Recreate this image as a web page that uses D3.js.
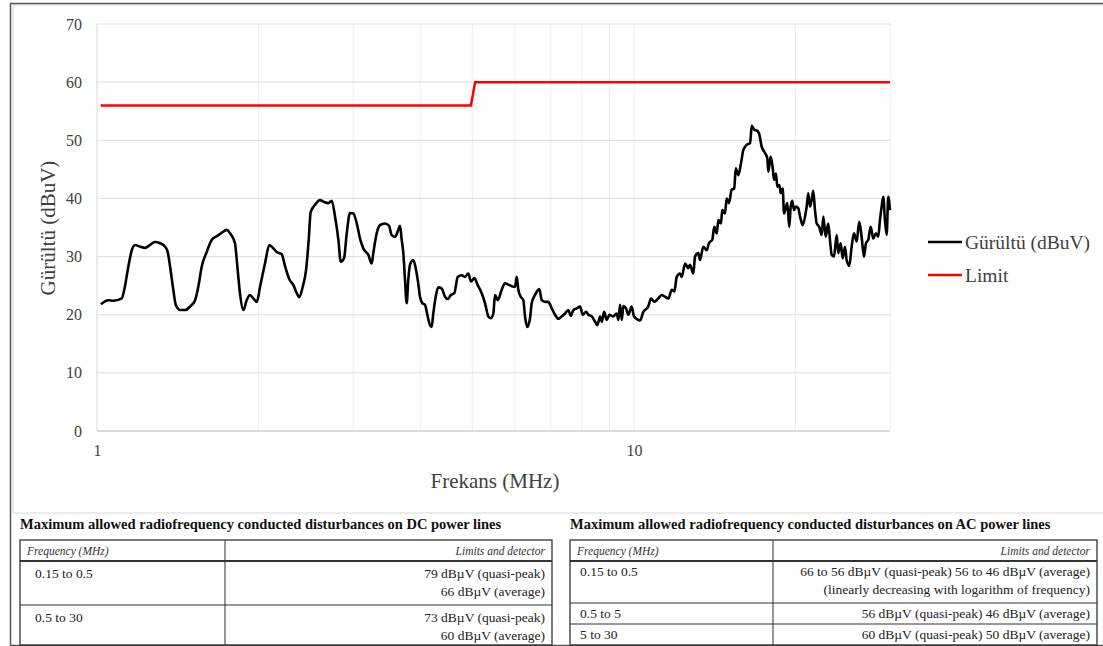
<!DOCTYPE html>
<html lang="tr">
<head>
<meta charset="UTF-8">
<title>Gürültü ve Limit</title>
<script src="https://d3js.org/d3.v7.min.js"></script>
<style>
  body { margin: 0; background: #fff; }
  svg text { font-family: "Liberation Serif", "Times New Roman", serif; }
</style>
</head>
<body>
<svg id="chart" width="1103" height="646"></svg>
<script>
// ---- data ----
const yTicks = [0, 10, 20, 30, 40, 50, 60, 70];
const xTickLabels = [1, 10];
const xGrid = [1, 2, 3, 4, 5, 6, 7, 8, 9, 10, 20, 30];

// [MHz, dBuV]
const noise = [
  [1.017,21.8],[1.050,22.5],[1.072,22.4],[1.112,22.8],[1.124,24.3],[1.144,28.3],[1.161,31.1],[1.177,32.0],
  [1.203,31.7],[1.229,31.5],[1.255,32.0],[1.282,32.5],[1.310,32.3],[1.339,31.7],[1.354,30.8],[1.368,28.3],
  [1.387,24.3],[1.402,21.7],[1.428,20.8],[1.459,20.8],[1.490,21.4],[1.523,22.5],[1.544,24.8],[1.567,28.3],
  [1.601,30.8],[1.636,32.9],[1.671,33.5],[1.707,34.1],[1.744,34.6],[1.769,34.0],[1.807,32.3],[1.821,29.4],
  [1.833,26.5],[1.846,23.7],[1.873,20.8],[1.900,22.5],[1.927,23.4],[1.955,22.8],[1.984,22.2],[2.012,24.8],
  [2.055,28.8],[2.094,32.0],[2.130,31.4],[2.161,30.8],[2.208,30.4],[2.240,28.3],[2.281,26.1],[2.321,25.1],
  [2.355,23.7],[2.381,23.0],[2.416,24.8],[2.451,27.7],[2.479,32.9],[2.500,37.7],[2.547,38.9],[2.602,39.7],
  [2.647,39.4],[2.696,39.2],[2.736,39.6],[2.775,36.9],[2.815,32.9],[2.844,29.1],[2.884,29.7],[2.918,34.0],
  [2.959,37.5],[3.002,37.4],[3.046,35.7],[3.089,33.1],[3.133,31.4],[3.201,30.3],[3.248,28.8],[3.270,30.6],
  [3.318,34.0],[3.365,35.4],[3.438,35.7],[3.498,35.3],[3.538,33.7],[3.589,33.4],[3.640,34.6],[3.667,35.3],
  [3.693,32.9],[3.719,30.6],[3.746,26.0],[3.773,22.0],[3.799,26.0],[3.827,28.6],[3.882,29.4],[3.922,28.0],
  [3.956,26.0],[3.995,23.1],[4.034,22.0],[4.081,21.7],[4.129,19.7],[4.170,18.2],[4.200,17.9],[4.229,20.2],
  [4.273,23.1],[4.321,24.7],[4.384,24.5],[4.447,23.1],[4.498,22.7],[4.562,23.4],[4.628,23.7],[4.696,26.5],
  [4.777,26.8],[4.845,26.5],[4.914,27.1],[4.971,25.7],[5.042,26.3],[5.116,25.1],[5.205,23.7],[5.279,22.0],
  [5.355,19.7],[5.417,19.4],[5.471,20.2],[5.511,23.4],[5.575,22.5],[5.671,24.3],[5.752,25.4],[5.794,25.3],
  [5.920,24.9],[6.004,24.8],[6.048,26.5],[6.090,24.3],[6.153,23.1],[6.222,22.5],[6.267,19.7],[6.329,17.9],
  [6.403,19.4],[6.450,22.0],[6.542,23.4],[6.664,24.4],[6.733,22.5],[6.829,22.2],[6.926,22.2],[7.028,21.1],
  [7.128,20.0],[7.230,19.3],[7.336,19.7],[7.440,20.2],[7.547,20.8],[7.625,19.8],[7.710,20.8],[7.824,21.1],
  [7.935,21.4],[8.028,20.0],[8.142,20.5],[8.223,20.0],[8.344,19.7],[8.463,18.8],[8.547,18.2],[8.646,19.7],
  [8.710,18.8],[8.796,20.5],[8.898,19.1],[8.998,20.0],[9.130,19.7],[9.288,20.2],[9.352,19.1],[9.421,21.7],
  [9.490,19.1],[9.555,21.5],[9.666,21.1],[9.762,20.0],[9.902,21.4],[10.00,19.7],[10.19,19.1],[10.26,19.0],
  [10.41,20.5],[10.63,21.4],[10.76,22.8],[10.91,22.2],[11.10,22.8],[11.26,23.4],[11.42,23.1],[11.59,22.8],
  [11.76,24.3],[11.89,24.0],[12.01,26.5],[12.18,27.1],[12.27,26.5],[12.45,28.8],[12.62,28.0],[12.71,28.6],
  [12.90,27.1],[12.99,30.0],[13.18,30.6],[13.27,29.4],[13.46,31.7],[13.66,31.1],[13.79,32.3],[13.99,32.9],
  [14.11,35.1],[14.26,34.0],[14.36,36.3],[14.52,35.7],[14.60,38.0],[14.77,37.4],[14.88,40.0],[15.03,39.2],
  [15.20,41.5],[15.37,41.7],[15.47,45.2],[15.64,44.0],[15.82,46.0],[15.98,48.3],[16.21,49.2],[16.45,49.5],
  [16.57,52.5],[16.75,51.8],[16.92,51.7],[17.09,51.2],[17.29,48.9],[17.54,47.8],[17.71,46.9],[17.79,44.6],
  [17.97,47.2],[18.13,45.2],[18.23,43.2],[18.38,44.3],[18.49,42.0],[18.65,42.3],[18.76,40.9],[18.92,41.7],
  [19.03,37.4],[19.19,38.6],[19.30,39.2],[19.46,35.1],[19.58,38.6],[19.71,39.6],[19.86,38.0],[20.03,38.6],
  [20.23,38.3],[20.38,36.9],[20.61,35.4],[20.82,36.9],[20.97,38.6],[21.11,40.9],[21.27,38.6],[21.42,39.7],
  [21.57,41.3],[21.73,38.0],[21.89,35.7],[22.13,35.1],[22.36,33.7],[22.52,36.9],[22.75,33.4],[23.00,35.7],
  [23.17,32.9],[23.34,30.3],[23.57,30.0],[23.85,33.7],[24.01,30.6],[24.26,32.3],[24.47,29.7],[24.71,31.7],
  [24.89,29.4],[25.17,28.4],[25.43,31.7],[25.68,34.0],[25.98,32.6],[26.27,36.0],[26.54,33.4],[26.81,30.0],
  [27.04,32.3],[27.31,32.9],[27.59,35.1],[27.90,33.1],[28.22,34.0],[28.50,33.4],[28.71,36.3],[28.92,38.6],
  [29.12,40.3],[29.33,36.3],[29.55,33.7],[29.75,40.3],[29.97,38.0]
];

const limit = [[1.016,56],[4.97,56],[5.06,60],[29.97,60]];

const seriesNames = ["Gürültü (dBuV)", "Limit"];
const seriesColors = ["#000000", "#ff0000"];

const dcTitle = "Maximum allowed radiofrequency conducted disturbances on DC power lines";
const acTitle = "Maximum allowed radiofrequency conducted disturbances on AC power lines";
const tableHeader = ["Frequency (MHz)", "Limits and detector"];
const dcRows = [
  { freq: "0.15 to 0.5", limits: ["79 dBµV (quasi-peak)", "66 dBµV (average)"] },
  { freq: "0.5 to 30", limits: ["73 dBµV (quasi-peak)", "60 dBµV (average)"] }
];
const acRows = [
  { freq: "0.15 to 0.5", limits: ["66 to 56 dBµV (quasi-peak) 56 to 46 dBµV (average)", "(linearly decreasing with logarithm of frequency)"] },
  { freq: "0.5 to 5", limits: ["56 dBµV (quasi-peak) 46 dBµV (average)"] },
  { freq: "5 to 30", limits: ["60 dBµV (quasi-peak) 50 dBµV (average)"] }
];

// ---- layout ----
const svg = d3.select("#chart");
const plot = { left: 97, right: 890.2, top: 24, bottom: 431 };

// frames
svg.append("rect").attr("x", 13).attr("y", 5).attr("width", 1095).attr("height", 508)
  .attr("fill", "none").attr("stroke", "#d9d9d9").attr("stroke-width", 1);
svg.append("path").attr("d", "M1103,3.5H10.5V645.5H1103")
  .attr("fill", "none").attr("stroke", "#555").attr("stroke-width", 1.5);

const x = d3.scaleLog().domain([1, 30]).range([plot.left, plot.right]);
const y = d3.scaleLinear().domain([0, 70]).range([plot.bottom, plot.top]);

// gridlines
svg.append("g").selectAll("line").data(xGrid).join("line")
  .attr("x1", d => x(d)).attr("x2", d => x(d))
  .attr("y1", plot.top).attr("y2", plot.bottom)
  .attr("stroke", d => (d === 1 ? "#d9d9d9" : "#ededed")).attr("stroke-width", 1);
svg.append("g").selectAll("line").data(yTicks).join("line")
  .attr("x1", plot.left).attr("x2", plot.right)
  .attr("y1", d => y(d)).attr("y2", d => y(d))
  .attr("stroke", d => (d === 0 ? "#cfcfcf" : "#dedede")).attr("stroke-width", d => (d === 0 ? 1.5 : 1));

// axes (labels only, Excel style)
const yAxis = svg.append("g").attr("transform", `translate(${plot.left},0)`)
  .call(d3.axisLeft(y).tickValues(yTicks).tickSize(0).tickPadding(15));
const xAxis = svg.append("g").attr("transform", `translate(0,${plot.bottom})`)
  .call(d3.axisBottom(x).tickValues(xTickLabels).tickFormat(d3.format("d")).tickSize(0).tickPadding(14));
[yAxis, xAxis].forEach(a => {
  a.select(".domain").remove();
  a.selectAll("text").attr("font-size", 16).attr("fill", "#404040")
    .attr("font-family", "'Liberation Serif', 'Times New Roman', serif");
});

// axis titles
svg.append("text").attr("transform", "translate(55,228) rotate(-90)")
  .attr("text-anchor", "middle").attr("font-size", 21).attr("fill", "#404040")
  .text("Gürültü (dBuV)");
svg.append("text").attr("x", 495).attr("y", 488)
  .attr("text-anchor", "middle").attr("font-size", 21).attr("fill", "#404040")
  .text("Frekans (MHz)");

// series
const line = d3.line().x(d => x(d[0])).y(d => y(d[1]));
svg.append("path").datum(limit)
  .attr("d", line.curve(d3.curveLinear))
  .attr("fill", "none").attr("stroke", seriesColors[1]).attr("stroke-width", 2.5);
svg.append("path").datum(noise)
  .attr("d", line.curve(d3.curveMonotoneX))
  .attr("fill", "none").attr("stroke", seriesColors[0]).attr("stroke-width", 2.6)
  .attr("stroke-linejoin", "round");

// legend
const legend = svg.append("g").selectAll("g").data(seriesNames).join("g")
  .attr("transform", (d, i) => `translate(928,${242 + i * 33})`);
legend.append("line").attr("x1", 0).attr("x2", 34)
  .attr("stroke", (d, i) => seriesColors[i]).attr("stroke-width", 2.5);
legend.append("text").attr("x", 37).attr("y", 6.5)
  .attr("font-size", 19.5).attr("fill", "#404040").text(d => d);

// ---- tables ----
function drawTable(cfg) {
  const g = svg.append("g");
  g.append("text").attr("x", cfg.x0).attr("y", 529)
    .attr("font-size", 14.5).attr("font-weight", "bold").attr("fill", "#111")
    .text(cfg.title);
  const b = cfg.bounds;
  // inner row lines
  g.selectAll("line.row").data(b.slice(1, -1)).join("line")
    .attr("x1", cfg.x0).attr("x2", cfg.x1).attr("y1", d => d).attr("y2", d => d)
    .attr("stroke", "#333").attr("stroke-width", (d, i) => (i === 0 ? 2 : 1));
  g.append("line").attr("x1", cfg.xd).attr("x2", cfg.xd).attr("y1", b[0]).attr("y2", b[b.length - 1])
    .attr("stroke", "#333").attr("stroke-width", 1);
  g.append("rect").attr("x", cfg.x0).attr("y", b[0])
    .attr("width", cfg.x1 - cfg.x0).attr("height", b[b.length - 1] - b[0])
    .attr("fill", "none").attr("stroke", "#333").attr("stroke-width", 1.3);
  // header
  g.append("text").attr("x", cfg.x0 + 7).attr("y", b[0] + 14.5)
    .attr("font-size", 11.5).attr("font-style", "italic").attr("fill", "#333").text(tableHeader[0]);
  g.append("text").attr("x", cfg.x1 - 7).attr("y", b[0] + 14.5).attr("text-anchor", "end")
    .attr("font-size", 11.5).attr("font-style", "italic").attr("fill", "#333").text(tableHeader[1]);
  // rows
  cfg.rows.forEach((r, i) => {
    const top = b[i + 1];
    g.append("text").attr("x", cfg.x0 + cfg.pad).attr("y", top + cfg.base)
      .attr("font-size", 13.5).attr("fill", "#222").text(r.freq);
    r.limits.forEach((t, j) => {
      g.append("text").attr("x", cfg.x1 - 7).attr("y", top + cfg.base + j * 18)
        .attr("text-anchor", "end").attr("font-size", 13.5).attr("fill", "#222").text(t);
    });
  });
}

drawTable({ title: dcTitle, rows: dcRows, x0: 20, x1: 552, xd: 225, pad: 15, base: 17, bounds: [540, 561, 605, 645] });
drawTable({ title: acTitle, rows: acRows, x0: 570, x1: 1097, xd: 773, pad: 10, base: 15, bounds: [540, 561, 603, 624, 645] });
</script>
</body>
</html>
